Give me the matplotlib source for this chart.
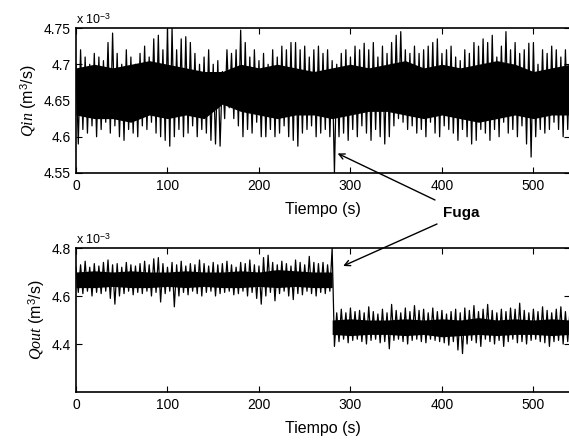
import numpy as np
import matplotlib.pyplot as plt
from matplotlib.ticker import FormatStrFormatter

plt.rcParams['font.family'] = ['Liberation Sans', 'DejaVu Sans']
plt.rcParams['mathtext.fontset'] = 'custom'
plt.rcParams['mathtext.rm'] = 'Liberation Sans'
plt.rcParams['mathtext.it'] = 'Liberation Serif:italic'

# caudal de entrada (x 1e-3 m3/s): picos altos cada 5 s, picos bajos desplazados 2.5 s
qin_hi = [4.70, 4.72, 4.71, 4.70, 4.715, 4.71, 4.705, 4.73, 4.743, 4.715,
          4.70, 4.72, 4.71, 4.70, 4.715, 4.725, 4.71, 4.735, 4.74, 4.72,
          4.75, 4.75, 4.72, 4.735, 4.738, 4.73, 4.715, 4.70, 4.71, 4.72,
          4.70, 4.705, 4.69, 4.72, 4.715, 4.72, 4.747, 4.73, 4.71, 4.72,
          4.705, 4.715, 4.70, 4.72, 4.71, 4.725, 4.72, 4.73, 4.73, 4.72,
          4.725, 4.71, 4.72, 4.725, 4.715, 4.72, 4.705, 4.70, 4.715, 4.72,
          4.71, 4.725, 4.72, 4.729, 4.72, 4.73, 4.71, 4.725, 4.715, 4.73,
          4.74, 4.745, 4.72, 4.715, 4.725, 4.715, 4.72, 4.725, 4.73, 4.735,
          4.715, 4.72, 4.725, 4.71, 4.705, 4.72, 4.715, 4.73, 4.725, 4.735,
          4.73, 4.74, 4.71, 4.725, 4.745, 4.72, 4.73, 4.715, 4.72, 4.729,
          4.73, 4.70, 4.72, 4.715, 4.725, 4.72, 4.71, 4.72, 4.715]
qin_lo = [4.59, 4.61, 4.605, 4.615, 4.60, 4.61, 4.62, 4.605, 4.615, 4.60,
          4.595, 4.61, 4.605, 4.60, 4.615, 4.61, 4.62, 4.605, 4.60, 4.595,
          4.587, 4.60, 4.61, 4.60, 4.605, 4.615, 4.60, 4.61, 4.605, 4.595,
          4.59, 4.587, 4.625, 4.64, 4.625, 4.615, 4.60, 4.61, 4.605, 4.62,
          4.60, 4.60, 4.61, 4.60, 4.605, 4.615, 4.60, 4.595, 4.587, 4.605,
          4.61, 4.615, 4.60, 4.605, 4.61, 4.60, 4.55, 4.60, 4.605, 4.595,
          4.61, 4.60, 4.615, 4.605, 4.595, 4.61, 4.60, 4.59, 4.60, 4.615,
          4.625, 4.62, 4.61, 4.615, 4.605, 4.61, 4.60, 4.62, 4.605, 4.60,
          4.615, 4.61, 4.605, 4.595, 4.61, 4.60, 4.59, 4.595, 4.61, 4.605,
          4.595, 4.61, 4.60, 4.62, 4.605, 4.61, 4.60, 4.615, 4.59, 4.572,
          4.60, 4.61, 4.605, 4.61, 4.62, 4.61, 4.60, 4.61]
# zona negra continua de la senal (cada 20 s desde t = 0)
qin_core_hi = [4.695, 4.70, 4.695, 4.70, 4.705, 4.70, 4.695, 4.69, 4.69, 4.70,
               4.695, 4.70, 4.695, 4.69, 4.695, 4.70, 4.695, 4.70, 4.705, 4.695,
               4.70, 4.695, 4.70, 4.705, 4.70, 4.69, 4.695, 4.70]
qin_core_lo = [4.63, 4.625, 4.625, 4.62, 4.63, 4.625, 4.63, 4.625, 4.645, 4.635,
               4.63, 4.625, 4.63, 4.63, 4.625, 4.63, 4.635, 4.635, 4.63, 4.625,
               4.63, 4.625, 4.62, 4.625, 4.63, 4.625, 4.63, 4.63]

# caudal de salida (x 1e-3 m3/s), la fuga aparece hacia t = 280 s
qout_hi = [4.72, 4.73, 4.745, 4.72, 4.735, 4.725, 4.74, 4.75, 4.73, 4.735,
           4.72, 4.74, 4.73, 4.725, 4.735, 4.745, 4.73, 4.755, 4.76, 4.735,
           4.72, 4.74, 4.73, 4.745, 4.725, 4.735, 4.73, 4.75, 4.735, 4.725,
           4.74, 4.73, 4.735, 4.745, 4.73, 4.72, 4.74, 4.735, 4.75, 4.73,
           4.725, 4.76, 4.77, 4.74, 4.73, 4.745, 4.735, 4.725, 4.75, 4.74,
           4.73, 4.765, 4.74, 4.735, 4.74, 4.73, 4.80,
           4.53, 4.545, 4.53, 4.55, 4.535, 4.54, 4.53, 4.555, 4.535, 4.525,
           4.545, 4.53, 4.565, 4.54, 4.53, 4.55, 4.535, 4.56, 4.54, 4.545,
           4.53, 4.55, 4.535, 4.54, 4.525, 4.535, 4.545, 4.53, 4.55, 4.54,
           4.56, 4.535, 4.545, 4.565, 4.54, 4.53, 4.545, 4.535, 4.55, 4.545,
           4.57, 4.54, 4.53, 4.545, 4.535, 4.555, 4.54, 4.53, 4.545, 4.555,
           4.535, 4.54]
qout_lo = [4.615, 4.61, 4.62, 4.60, 4.615, 4.61, 4.62, 4.59, 4.566, 4.60,
           4.61, 4.62, 4.605, 4.615, 4.61, 4.62, 4.60, 4.615, 4.575, 4.61,
           4.62, 4.555, 4.60, 4.615, 4.605, 4.62, 4.61, 4.60, 4.615, 4.62,
           4.60, 4.61, 4.615, 4.62, 4.605, 4.61, 4.62, 4.60, 4.615, 4.59,
           4.566, 4.60, 4.615, 4.58, 4.61, 4.62, 4.60, 4.585, 4.61, 4.605,
           4.62, 4.61, 4.60, 4.615, 4.61, 4.62,
           4.39, 4.41, 4.42, 4.405, 4.415, 4.42, 4.41, 4.40, 4.415, 4.42,
           4.405, 4.41, 4.38, 4.415, 4.42, 4.41, 4.40, 4.415, 4.42, 4.41,
           4.405, 4.42, 4.415, 4.41, 4.405, 4.395, 4.41, 4.375, 4.36, 4.40,
           4.415, 4.405, 4.39, 4.42, 4.41, 4.40, 4.415, 4.39, 4.41, 4.42,
           4.405, 4.41, 4.40, 4.415, 4.42, 4.41, 4.405, 4.39, 4.41, 4.415,
           4.40, 4.41]
# zona negra antes de la fuga (t = 0..280) y despues (t = 280..540)
qout_core_pre_hi = [4.70, 4.705, 4.70, 4.705, 4.70, 4.70, 4.705, 4.70, 4.70, 4.705,
                    4.70, 4.71, 4.705, 4.70, 4.70]
qout_core_pre_lo = [4.635, 4.635, 4.64, 4.635, 4.635, 4.64, 4.635, 4.64, 4.635, 4.635,
                    4.64, 4.635, 4.64, 4.635, 4.635]
qout_core_post_hi = [4.50, 4.505, 4.50, 4.50, 4.505, 4.50, 4.505, 4.50, 4.51, 4.50,
                     4.505, 4.50, 4.505, 4.50]
qout_core_post_lo = [4.44, 4.435, 4.44, 4.44, 4.435, 4.44, 4.43, 4.435, 4.44, 4.435,
                     4.44, 4.44, 4.435, 4.44]
t_fuga = 280

dt = 5.0
dt_core = 20.0
xticks = [0, 100, 200, 300, 400, 500]


fig = plt.figure(figsize=(5.69, 4.46), dpi=100)
ax1 = fig.add_axes([76 / 569, 1 - 173 / 446, 494 / 569, 145 / 446])
ax2 = fig.add_axes([76 / 569, 1 - 392 / 446, 494 / 569, 144 / 446])

panels = [
    (ax1, qin_hi, qin_lo, [(0, qin_core_hi, qin_core_lo)], (4.55, 4.75),
     [4.55, 4.6, 4.65, 4.7, 4.75], r'$\mathit{Qin}$ (m$^3$/s)'),
    (ax2, qout_hi, qout_lo,
     [(0, qout_core_pre_hi, qout_core_pre_lo), (t_fuga, qout_core_post_hi, qout_core_post_lo)],
     (4.2, 4.8), [4.4, 4.6, 4.8], r'$\mathit{Qout}$ (m$^3$/s)'),
]
for ax, hi, lo, cores, ylim, yticks, ylabel in panels:
    for t0, chi, clo in cores:
        tc = t0 + np.arange(len(chi)) * dt_core
        ax.fill_between(tc, clo, chi, color='black', lw=0)
    t = np.concatenate([np.arange(len(hi)) * dt, np.arange(len(lo)) * dt + dt / 2])
    v = np.concatenate([hi, lo])
    idx = np.argsort(t)
    ax.plot(t[idx], v[idx], color='black', lw=0.9)
    ax.set_xlim(0, 540)
    ax.set_ylim(*ylim)
    ax.set_xticks(xticks)
    ax.set_yticks(yticks)
    ax.yaxis.set_major_formatter(FormatStrFormatter('%g'))
    ax.tick_params(direction='in', top=True, right=True, labelsize=10, length=4, pad=4)
    for s in ax.spines.values():
        s.set_linewidth(1.2)
    ax.set_xlabel('Tiempo (s)', fontsize=11.5, labelpad=7)
    ax.set_ylabel(ylabel, fontsize=11.5, labelpad=3)
    ax.text(0, 1.01, r'x 10$^{-3}$', transform=ax.transAxes, fontsize=9, va='bottom', ha='left')

fig.text(443 / 569, 1 - 213 / 446, 'Fuga', fontsize=11, fontweight='bold', ha='left', va='center')
arrow = dict(arrowstyle='->', color='black', lw=1.0, shrinkA=0, shrinkB=0)
ax1.annotate('', xy=(286, 4.577), xytext=(435 / 569, 1 - 200 / 446),
             textcoords='figure fraction', arrowprops=arrow, annotation_clip=False)
ax2.annotate('', xy=(292, 4.725), xytext=(437 / 569, 1 - 224 / 446),
             textcoords='figure fraction', arrowprops=arrow, annotation_clip=False)

fig.savefig('out.png', dpi=100)
